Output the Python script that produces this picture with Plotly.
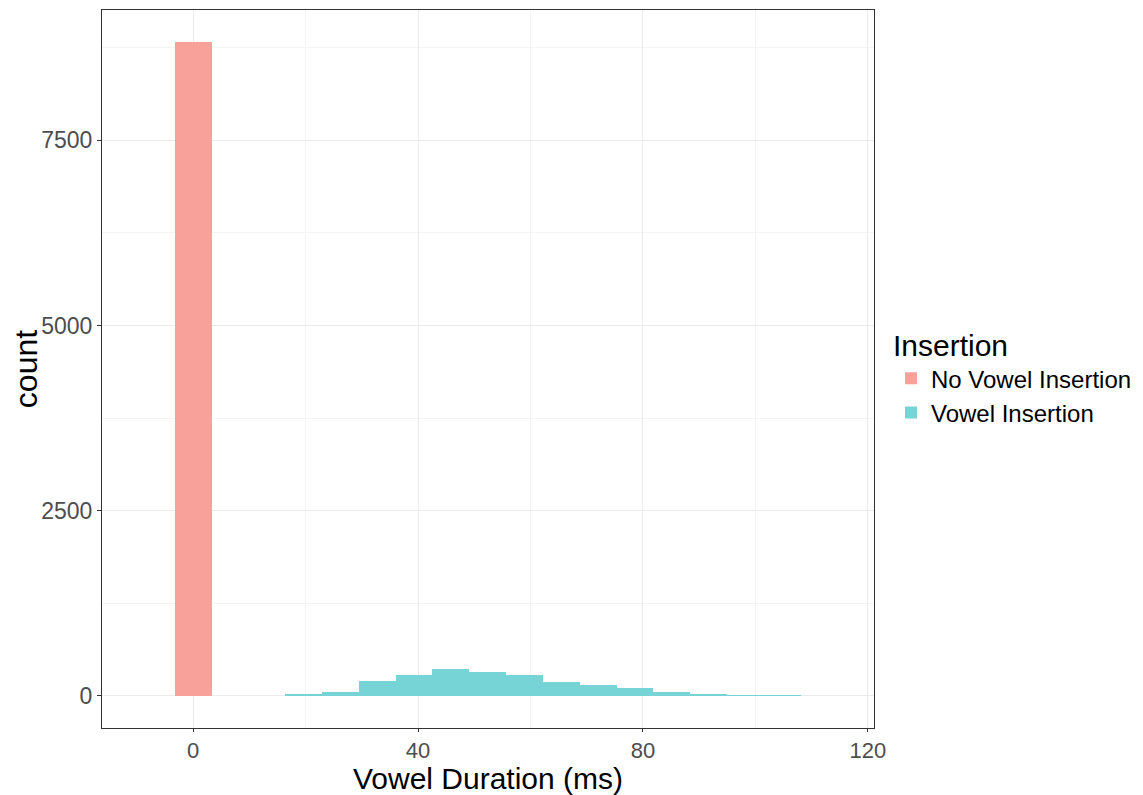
import plotly.graph_objects as go

# Histogram bins (ms) and counts
binwidth = 6.55
no_ins_centers = [0.0]
no_ins_counts = [8826]
ins_centers = [19.65, 26.2, 32.75, 39.3, 45.85, 52.4, 58.95, 65.5, 72.05, 78.6, 85.15, 91.7, 98.25, 104.8]
ins_counts = [14, 58, 202, 283, 360, 320, 283, 185, 148, 104, 50, 27, 12, 12]

fig = go.Figure()
fig.add_trace(go.Bar(x=no_ins_centers, y=no_ins_counts, width=[binwidth] * len(no_ins_centers),
                     name="No Vowel Insertion", marker=dict(color="#F8A19B", line=dict(width=0))))
fig.add_trace(go.Bar(x=ins_centers, y=ins_counts, width=[binwidth] * len(ins_centers),
                     name="Vowel Insertion", marker=dict(color="#76D3D6", line=dict(width=0))))

font_family = "Liberation Sans, Arial, sans-serif"
fig.update_layout(
    width=1135, height=787,
    margin=dict(l=94, r=269, t=2, b=67, autoexpand=False),
    plot_bgcolor="white", paper_bgcolor="white",
    barmode="overlay", bargap=0,
    font=dict(family=font_family, color="#1a1a1a"),
    legend=dict(title=dict(text="Insertion", font=dict(size=30, color="black")),
                font=dict(size=24, color="black"),
                x=1.022, xanchor="left", y=0.49, yanchor="middle",
                tracegroupgap=0, itemsizing="constant"),
    xaxis=dict(range=[-16.2, 121.1], tickvals=[0, 40, 80, 120], showgrid=True,
               gridcolor="#EBEBEB", gridwidth=1.2, automargin=False,
               minor=dict(tickvals=[20, 60, 100], showgrid=True, gridcolor="#F4F4F4", gridwidth=0.8),
               zeroline=False, showline=True, linecolor="#333333", linewidth=1, mirror=True,
               ticks="outside", ticklen=3, tickcolor="#333333",
               tickfont=dict(size=22, color="#4d4d4d"),
               title=dict(text="Vowel Duration (ms)", font=dict(size=30, color="black"), standoff=11)),
    yaxis=dict(range=[-432, 9257], tickvals=[0, 2500, 5000, 7500], showgrid=True,
               gridcolor="#EBEBEB", gridwidth=1.2, automargin=False,
               minor=dict(tickvals=[1250, 3750, 6250, 8750], showgrid=True, gridcolor="#F4F4F4", gridwidth=0.8),
               zeroline=False, showline=True, linecolor="#333333", linewidth=1, mirror=True,
               ticks="outside", ticklen=4, tickcolor="#333333",
               tickfont=dict(size=23, color="#4d4d4d"),
               title=dict(text="count", font=dict(size=32, color="black"), standoff=6)),
)
fig.write_html("out.html")
